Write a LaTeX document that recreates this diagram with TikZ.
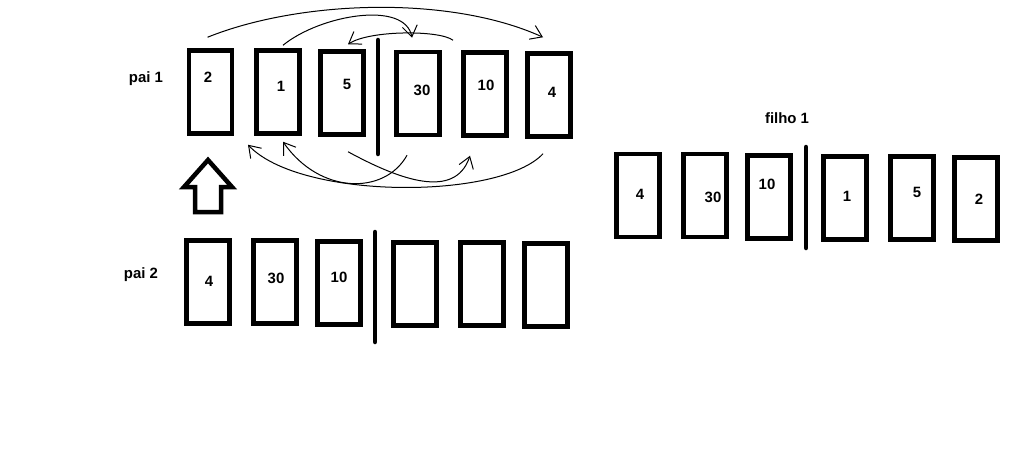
\documentclass[tikz,border=0pt]{standalone}
\usepackage{fontspec}
\setmainfont{Liberation Sans}
\usetikzlibrary{arrows.meta}

\begin{document}
\begin{tikzpicture}[
    x=0.02cm, y=-0.02cm,
    cell/.style={draw, line width=0.09cm, minimum width=0.86cm, minimum height=1.66cm, inner sep=0pt},
    digit/.style={font=\fontsize{8.5}{10}\selectfont\bfseries, inner sep=0pt},
    tag/.style={font=\fontsize{8.5}{10}\selectfont\bfseries, inner sep=0pt},
    cut/.style={line width=0.09cm, line cap=round},
    swap/.style={line width=0.02cm, -{Straight Barb[length=2.2mm,width=3mm]}},
    hollow/.style={line width=0.09cm, line join=miter}
]
    \useasboundingbox (0,0) rectangle (1033,456);

    % Parent 1
    \node[tag] (pai1) at (146,79) {pai 1};
    \node[cell] (a1) at (210.5,92) {};
    \node[cell] (a2) at (278,92) {};
    \node[cell] (a3) at (342,93) {};
    \node[cell] (a4) at (418,93.5) {};
    \node[cell] (a5) at (485,94) {};
    \node[cell] (a6) at (549,95) {};
    \node[digit] (va1) at (208,77) {2};
    \node[digit] (va2) at (281,86) {1};
    \node[digit] (va3) at (347,84) {5};
    \node[digit] (va4) at (422,90) {30};
    \node[digit] (va5) at (486,85) {10};
    \node[digit] (va6) at (552,92) {4};
    \draw[cut] (378,40) -- (378,154);

    % Parent 2
    \node[tag] (pai2) at (141,275) {pai 2};
    \node[cell] (b1) at (208,282) {};
    \node[cell] (b2) at (275,282) {};
    \node[cell] (b3) at (339,283) {};
    \node[cell] (b4) at (415,284) {};
    \node[cell] (b5) at (482,284) {};
    \node[cell] (b6) at (546,285) {};
    \node[digit] (vb1) at (209,281) {4};
    \node[digit] (vb2) at (276,278) {30};
    \node[digit] (vb3) at (339,277) {10};
    \draw[cut] (375,232) -- (375,342);

    % Child
    \node[tag] (filho1) at (787,118) {filho 1};
    \node[cell] (c1) at (638,195.5) {};
    \node[cell] (c2) at (705,195.5) {};
    \node[cell] (c3) at (769,197) {};
    \node[cell] (c4) at (845,198) {};
    \node[cell] (c5) at (912,198) {};
    \node[cell] (c6) at (976,199) {};
    \node[digit] (vc1) at (640,194) {4};
    \node[digit] (vc2) at (713,197) {30};
    \node[digit] (vc3) at (767,184) {10};
    \node[digit] (vc4) at (847,196) {1};
    \node[digit] (vc5) at (917,192) {5};
    \node[digit] (vc6) at (979,199) {2};
    \draw[cut] (806,147) -- (806,248);

    % Block arrow
    \draw[hollow] (208,160) -- (232,187) -- (221,187) -- (221,212) -- (195,212) -- (195,187) -- (184,187) -- cycle;

    % Swaps above
    \draw[swap] ([shift={(-3,-11)}]a1.north) .. controls (300,0) and (450,-5) .. ([shift={(-6,-14)}]a6.north);
    \draw[swap] ([shift={(5,-3)}]a2.north) .. controls (320,15) and (405,0) .. ([shift={(-6,-12)}]a4.north);
    \draw[swap] ([shift={(-32,-10)}]a5.north) .. controls (440,30) and (370,30) .. ([shift={(6,-5)}]a3.north);

    % Swaps below
    \draw[swap] ([shift={(-6,15)}]a6.south) .. controls (500,200) and (300,200) .. ([shift={(-30,9)}]a2.south);
    \draw[swap] ([shift={(-11,18)}]a4.south) .. controls (385,195) and (320,195) .. ([shift={(5,6)}]a2.south);
    \draw[swap] ([shift={(6,15)}]a3.south) .. controls (400,180) and (455,200) .. ([shift={(-15,18)}]a5.south);
\end{tikzpicture}
\end{document}
